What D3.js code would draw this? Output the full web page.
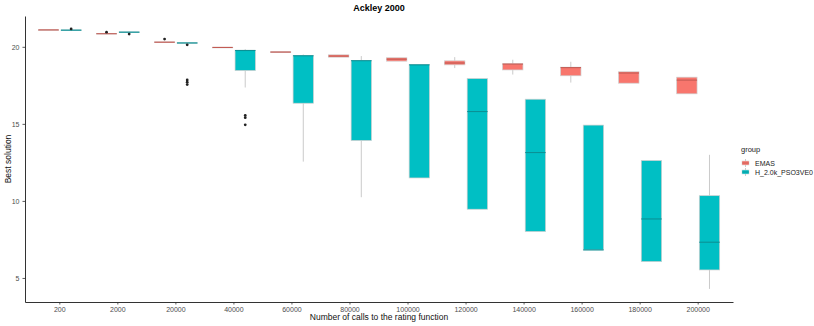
<!DOCTYPE html>
<html>
<head>
<meta charset="utf-8">
<script src="https://cdn.jsdelivr.net/npm/d3@7.9.0/dist/d3.min.js"></script>
<style>
  body { margin: 0; background: #fff; }
  svg { font-family: "Liberation Sans", Arial, sans-serif; }
</style>
</head>
<body>
<svg id="chart" width="814" height="326"></svg>
<script>
// categories on the x axis
const categories = ['200', '2000', '20000', '40000', '60000', '80000',
  '100000', '120000', '140000', '160000', '180000', '200000'];
const groups = ['EMAS', 'H_2.0k_PSO3VE0'];
const yTicks = [5, 10, 15, 20];

// box stats per category: [lower whisker, q1, median, q3, upper whisker]
const emasStats = [
  [21.1, 21.1, 21.1, 21.1, 21.1],
  [20.85, 20.85, 20.85, 20.87, 20.87],
  [20.3, 20.3, 20.3, 20.32, 20.32],
  [19.95, 19.95, 19.96, 19.97, 19.97],
  [19.63, 19.63, 19.66, 19.68, 19.68],
  [19.33, 19.33, 19.4, 19.48, 19.48],
  [19.07, 19.07, 19.2, 19.29, 19.29],
  [18.62, 18.83, 18.95, 19.09, 19.33],
  [18.2, 18.5, 18.88, 18.9, 19.16],
  [17.68, 18.12, 18.65, 18.68, 19.03],
  [17.64, 17.64, 18.3, 18.38, 18.38],
  [16.95, 16.95, 17.84, 18.03, 18.03]
];
const psoStats = [
  [21.08, 21.08, 21.08, 21.1, 21.1],
  [20.95, 20.95, 20.95, 20.97, 20.97],
  [20.25, 20.25, 20.25, 20.27, 20.27],
  [17.36, 18.46, 19.76, 19.78, 19.85],
  [12.55, 16.34, 19.42, 19.44, 19.5],
  [10.24, 13.92, 19.1, 19.12, 19.4],
  [11.49, 11.49, 18.83, 18.85, 18.85],
  [9.46, 9.46, 15.8, 17.94, 17.94],
  [8.01, 8.01, 13.14, 16.6, 16.6],
  [6.82, 6.82, 6.82, 14.92, 14.92],
  [6.06, 6.06, 8.83, 12.62, 12.62],
  [4.29, 5.52, 7.32, 10.34, 12.99]
];
// outliers per category
const emasOutliers = [[], [20.95], [20.5], [], [], [], [], [], [], [], [], []];
const psoOutliers = [[21.16], [20.83], [20.13, 17.85, 17.7, 17.55],
  [15.55, 15.4, 14.94], [], [], [], [], [], [], [], []];

const colors = d3.scaleOrdinal(groups, ['#F8766D', '#00BFC4']);
const medianColors = d3.scaleOrdinal(groups, ['#c25b54', '#0a9195']);

const svg = d3.select('#chart');
const padL = 25, padR = 733, padT = 16, padB = 302;

const x = d3.scaleBand(categories, [padL, padR]).paddingInner(0).paddingOuter(0.1);
const dodge = d3.scaleBand(groups, [-21.5, 21.5]).paddingInner(0.1);
const y = d3.scaleLinear([3.44, 22.0], [padB, padT]);

// boxes
const series = [
  { g: groups[0], stats: emasStats, out: emasOutliers },
  { g: groups[1], stats: psoStats, out: psoOutliers }
];

series.forEach(s => {
  const layer = svg.append('g');
  s.stats.forEach((st, i) => {
    const [lo, q1, med, q3, hi] = st;
    const x0 = x(categories[i]) + x.bandwidth() / 2 + dodge(s.g);
    const w = dodge.bandwidth();
    const cx = x0 + w / 2;
    const b = layer.append('g');
    b.append('line')
      .attr('x1', cx).attr('x2', cx)
      .attr('y1', y(hi)).attr('y2', y(q3))
      .attr('stroke', '#bdbdbd').attr('stroke-width', 0.8);
    b.append('line')
      .attr('x1', cx).attr('x2', cx)
      .attr('y1', y(q1)).attr('y2', y(lo))
      .attr('stroke', '#bdbdbd').attr('stroke-width', 0.8);
    b.append('rect')
      .attr('x', x0).attr('width', w)
      .attr('y', y(q3)).attr('height', Math.max(y(q1) - y(q3), 0.6))
      .attr('fill', colors(s.g))
      .attr('stroke', '#cfcfcf').attr('stroke-width', 0.7);
    b.append('line')
      .attr('x1', x0).attr('x2', x0 + w)
      .attr('y1', y(med)).attr('y2', y(med))
      .attr('stroke', medianColors(s.g)).attr('stroke-width', 1.1);
    s.out[i].forEach(v => {
      b.append('circle')
        .attr('cx', cx).attr('cy', y(v)).attr('r', 1.4)
        .attr('fill', '#222');
    });
  });
});

// axes
const yAxis = svg.append('g')
  .attr('transform', `translate(${padL},0)`)
  .call(d3.axisLeft(y).tickValues(yTicks).tickSize(2.5).tickSizeOuter(0).tickPadding(3));
const xAxis = svg.append('g')
  .attr('transform', `translate(0,${padB})`)
  .call(d3.axisBottom(x).tickSize(2.5).tickSizeOuter(0).tickPadding(3));

[yAxis, xAxis].forEach(a => {
  a.select('.domain').attr('stroke', '#333').attr('stroke-width', 1);
  a.selectAll('.tick line').attr('stroke', '#333').attr('stroke-width', 0.8);
  a.selectAll('.tick text').attr('fill', '#4d4d4d').attr('font-size', 7);
});

// titles
svg.append('text')
  .attr('x', (padL + padR) / 2).attr('y', 11)
  .attr('text-anchor', 'middle')
  .attr('font-size', 9).attr('font-weight', 'bold')
  .text('Ackley 2000');

svg.append('text')
  .attr('x', (padL + padR) / 2).attr('y', 320)
  .attr('text-anchor', 'middle')
  .attr('font-size', 8.5).attr('fill', '#111')
  .text('Number of calls to the rating function');

svg.append('text')
  .attr('transform', `translate(11,${(padT + padB) / 2}) rotate(-90)`)
  .attr('text-anchor', 'middle')
  .attr('font-size', 8.5).attr('fill', '#111')
  .text('Best solution');

// legend
const legend = svg.append('g').attr('transform', 'translate(741,152)');
legend.append('text')
  .attr('x', 0).attr('y', 0)
  .attr('font-size', 7.5).attr('fill', '#222')
  .text('group');
groups.forEach((g, i) => {
  const row = legend.append('g').attr('transform', `translate(0,${7 + i * 9})`);
  row.append('line')
    .attr('x1', 4.5).attr('x2', 4.5).attr('y1', 0).attr('y2', 8)
    .attr('stroke', '#bdbdbd').attr('stroke-width', 0.8);
  row.append('rect')
    .attr('x', 1).attr('y', 2).attr('width', 7).attr('height', 4)
    .attr('fill', colors(g)).attr('stroke', '#cfcfcf').attr('stroke-width', 0.5);
  row.append('line')
    .attr('x1', 1).attr('x2', 8).attr('y1', 4).attr('y2', 4)
    .attr('stroke', medianColors(g)).attr('stroke-width', 0.8);
  row.append('text')
    .attr('x', 14).attr('y', 6.5)
    .attr('font-size', 7).attr('fill', '#222')
    .text(g);
});
</script>
</body>
</html>
